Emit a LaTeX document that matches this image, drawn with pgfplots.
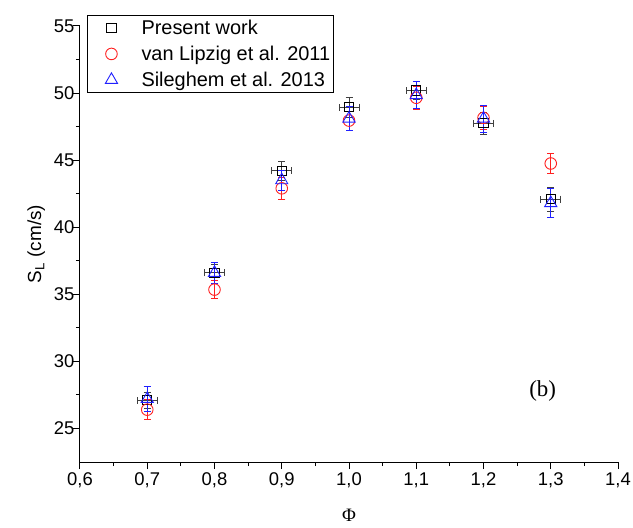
\documentclass[border=0pt]{standalone}
\usepackage{pgfplots}
\usepackage{pgfplotstable}
\usepackage{fontspec}
\pgfplotsset{compat=1.18}
\setmainfont{Liberation Sans}
\newfontfamily\timesf{Liberation Serif}
\definecolor{refred}{HTML}{FF2020}
\definecolor{refblue}{HTML}{2020FF}

% x  y  ex  ey
\pgfplotstableread{
x y ex ey
0.7 27.10 0.015 0.60
0.8 36.60 0.015 0.60
0.9 44.20 0.015 0.70
1.0 48.95 0.015 0.75
1.1 50.20 0.015 0.70
1.2 47.75 0.015 0.80
1.3 42.10 0.015 0.90
}\present
\pgfplotstableread{
x y ey
0.7 26.40 0.75
0.8 35.35 0.65
0.9 42.90 0.80
1.0 47.95 0.70
1.1 49.65 0.85
1.2 48.15 0.85
1.3 44.75 0.75
}\lipzig
\pgfplotstableread{
x y ey
0.7 27.20 0.90
0.8 36.60 0.75
0.9 43.50 0.75
1.0 48.10 0.90
1.1 49.85 1.00
1.2 48.10 1.00
1.3 41.80 1.10
}\sileghem

\newcommand{\lt}[1]{\makebox[172bp][l]{#1}}

\begin{document}
\begin{tikzpicture}
\begin{axis}[
  scale only axis,
  width=538bp, height=436bp,
  xmin=0.6, xmax=1.4, ymin=22.5, ymax=55,
  axis lines=left,
  axis line style={-, line width=1bp},
  xtick={0.6,0.7,...,1.41}, ytick={25,30,...,55},
  minor x tick num=1, minor y tick num=1,
  tick align=outside,
  major tick length=7bp, minor tick length=4bp,
  tick style={line width=1bp, black},
  /pgf/number format/assume math mode=true,
  x tick label style={/pgf/number format/.cd, fixed, fixed zerofill, precision=1, use comma},
  ticklabel style={font=\fontsize{18.5}{21}\selectfont},
  yticklabel style={xshift=5bp},
  xlabel={\timesf Φ},
  ylabel={S\textsubscript{L} (cm/s)},
  label style={font=\fontsize{19}{22}\selectfont},
  xlabel style={yshift=-15bp},
  ylabel style={yshift=2bp},
  legend cell align=left,
  legend style={at={(rel axis cs:0.013,1.026)}, anchor=north west,
    font=\fontsize{20}{23}\selectfont, draw=black, line width=0.8bp,
    inner xsep=18bp, inner ysep=3bp, row sep=6bp, column sep=22bp},
  clip=false,
]
\addplot[black, only marks, mark=square, mark size=4.6bp, line width=0.9bp,
  error bars/.cd, x dir=both, x explicit, y dir=both, y explicit,
  error bar style={line width=0.8bp, black!75},
  error mark options={rotate=90, mark size=3.5bp, line width=0.8bp, black!75}]
  table[x=x, y=y, x error=ex, y error=ey]{\present};
\addlegendentry{\lt{Present work}}
\addplot[refred, only marks, mark=o, mark size=5.8bp, line width=0.9bp,
  error bars/.cd, y dir=both, y explicit,
  error bar style={line width=0.8bp, refred},
  error mark options={rotate=90, mark size=3.5bp, line width=0.8bp, refred}]
  table[x=x, y=y, y error=ey]{\lipzig};
\addlegendentry{\lt{van Lipzig et al. 2011}}
\addplot[refblue, only marks, mark=triangle, mark size=7bp, line width=0.9bp,
  error bars/.cd, y dir=both, y explicit,
  error bar style={line width=0.8bp, refblue},
  error mark options={rotate=90, mark size=3.5bp, line width=0.8bp, refblue}]
  table[x=x, y=y, y error=ey]{\sileghem};
\addlegendentry{\lt{Sileghem et al. 2013}}
\node[font=\timesf\fontsize{23}{26}\selectfont] at (axis cs:1.288,27.8) {(b)};
\coordinate (sw) at (rel axis cs:0,0);
\coordinate (ne) at (rel axis cs:1,1);
\end{axis}
\pgfresetboundingbox
\path ([shift={(-80bp,-66bp)}]sw) rectangle ([shift={(15bp,26bp)}]ne);
\end{tikzpicture}
\end{document}
